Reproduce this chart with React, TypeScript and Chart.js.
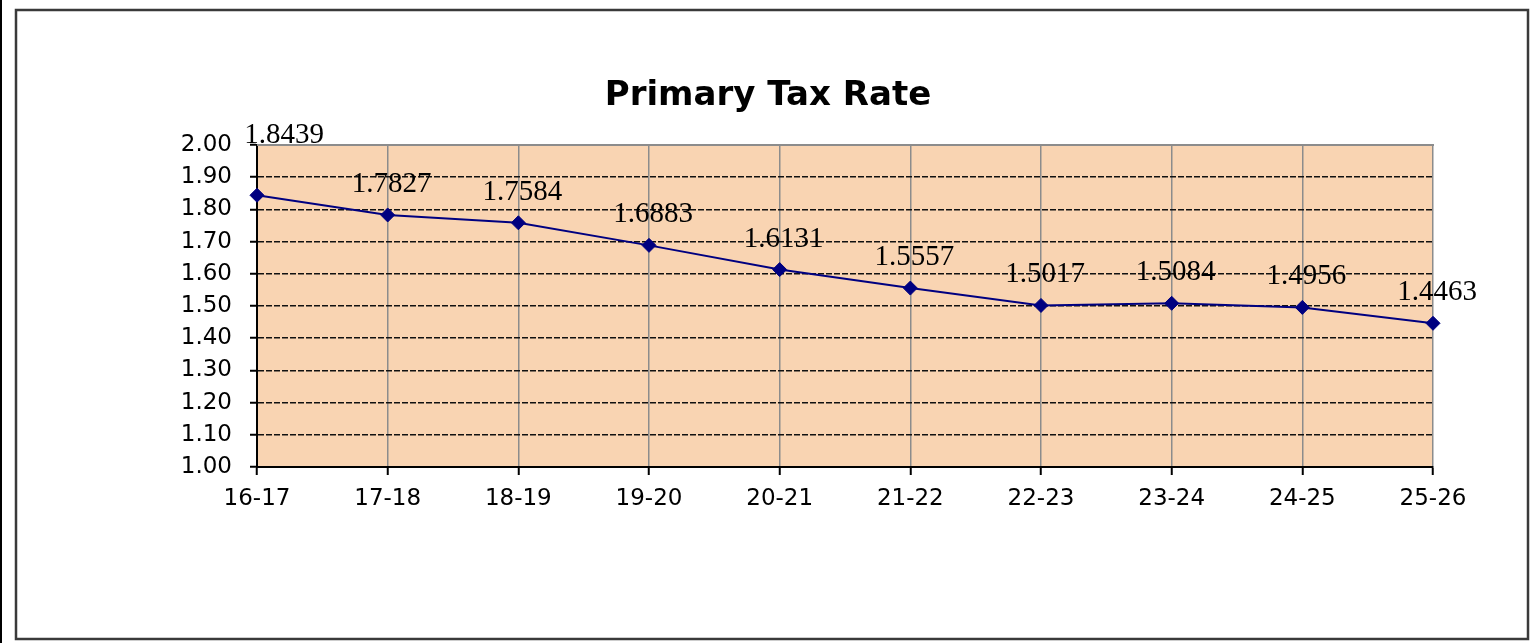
import React, { useEffect, useRef } from "react";
import { Chart, registerables } from "chart.js";

Chart.register(...registerables);

const categories: string[] = ["16-17", "17-18", "18-19", "19-20", "20-21", "21-22", "22-23", "23-24", "24-25", "25-26"];
const taxRate: number[] = [1.8439, 1.7827, 1.7584, 1.6883, 1.6131, 1.5557, 1.5017, 1.5084, 1.4956, 1.4463];
const yMin = 1.0;
const yMax = 2.0;
const yStep = 0.1;
const chartTitle = "Primary Tax Rate";

const W = 1534;
const H = 643;

const framePlugin = {
  id: "frame",
  beforeDraw(chart: any) {
    const { ctx, chartArea } = chart;
    ctx.save();
    ctx.fillStyle = "#ffffff";
    ctx.fillRect(0, 0, chart.width, chart.height);
    ctx.fillStyle = "#000000";
    ctx.fillRect(0, 0, 2, chart.height);
    ctx.strokeStyle = "#3a3a3a";
    ctx.lineWidth = 2.5;
    ctx.strokeRect(16, 10, 1512, 629);
    ctx.fillStyle = "#F9D4B2";
    ctx.fillRect(chartArea.left, chartArea.top, chartArea.right - chartArea.left, chartArea.bottom - chartArea.top);
    // title
    ctx.fillStyle = "#000000";
    ctx.font = "bold 34px 'DejaVu Sans', Verdana, sans-serif";
    ctx.textAlign = "center";
    ctx.textBaseline = "alphabetic";
    ctx.fillText(chartTitle, 768, 105);
    ctx.restore();
  },
  beforeDatasetsDraw(chart: any) {
    const { ctx, chartArea } = chart;
    ctx.save();
    ctx.strokeStyle = "#8c8c8c";
    ctx.lineWidth = 2;
    ctx.beginPath();
    ctx.moveTo(chartArea.left, chartArea.top);
    ctx.lineTo(chartArea.right + 1, chartArea.top);
    ctx.stroke();
    ctx.restore();
  },
};

const labelPlugin = {
  id: "valueLabels",
  afterDatasetsDraw(chart: any) {
    const { ctx } = chart;
    const meta = chart.getDatasetMeta(0);
    const data = chart.data.datasets[0].data as number[];
    ctx.save();
    ctx.font = "29px 'Liberation Serif', 'Times New Roman', serif";
    ctx.fillStyle = "#000000";
    ctx.textAlign = "center";
    ctx.textBaseline = "alphabetic";
    meta.data.forEach((pt: any, i: number) => {
      const txt = data[i].toFixed(4);
      let x = pt.x + 4;
      let y = pt.y - 23;
      if (i === 0) {
        x = pt.x + 27;
        y = pt.y - 52;
      }
      ctx.fillText(txt, x, y);
    });
    ctx.restore();
  },
};

export default function App() {
  const ref = useRef<HTMLCanvasElement | null>(null);

  useEffect(() => {
    if (!ref.current) return;
    Chart.defaults.font.family = "'DejaVu Sans', Verdana, sans-serif";
    const near = (a: number, b: number) => Math.abs(a - b) < 1e-6;
    const chart = new Chart(ref.current, {
      type: "line",
      data: {
        labels: categories,
        datasets: [
          {
            label: chartTitle,
            data: taxRate,
            borderColor: "#000080",
            backgroundColor: "#000080",
            borderWidth: 2,
            pointStyle: "rectRot",
            pointRadius: 7,
            pointBackgroundColor: "#000080",
            pointBorderColor: "#000080",
            pointBorderWidth: 1,
            tension: 0,
            clip: false as any,
          },
        ],
      },
      options: {
        responsive: false,
        animation: false,
        layout: { padding: { left: 0, right: 101, top: 145, bottom: 0 } },
        plugins: {
          legend: { display: false },
          tooltip: { enabled: false },
          title: { display: false },
        },
        scales: {
          x: {
            type: "category",
            offset: false,
            afterFit(scale: any) {
              scale.height = H - 467;
            },
            grid: {
              color: (c: any) => (c.index === 0 ? "rgba(0,0,0,0)" : "#8c8c8c"),
              lineWidth: 1.5,
              tickColor: "#000000",
              tickLength: 8,
              tickWidth: 2,
            },
            border: { color: "#000000", width: 2 },
            ticks: {
              color: "#000000",
              font: { size: 23 },
              padding: 10,
              maxRotation: 0,
              autoSkip: false,
            },
          },
          y: {
            min: yMin,
            max: yMax,
            afterFit(scale: any) {
              scale.width = 257;
            },
            grid: {
              color: (c: any) =>
                c.tick && (near(c.tick.value, yMax) || near(c.tick.value, yMin)) ? "rgba(0,0,0,0)" : "#111111",
              lineWidth: 1.5,
              tickColor: "#000000",
              tickLength: 7,
              tickWidth: 2,
            },
            border: { color: "#000000", width: 2, dash: [6, 2] },
            ticks: {
              stepSize: yStep,
              color: "#000000",
              font: { size: 23 },
              padding: 18,
              callback: (v: any) => Number(v).toFixed(2),
            },
          },
        },
      },
      plugins: [framePlugin, labelPlugin],
    });
    return () => chart.destroy();
  }, []);

  return (
    <div style={{ position: "absolute", left: 0, top: 0, width: W, height: H, background: "#fff" }}>
      <canvas ref={ref} width={W} height={H} style={{ display: "block" }} />
    </div>
  );
}
